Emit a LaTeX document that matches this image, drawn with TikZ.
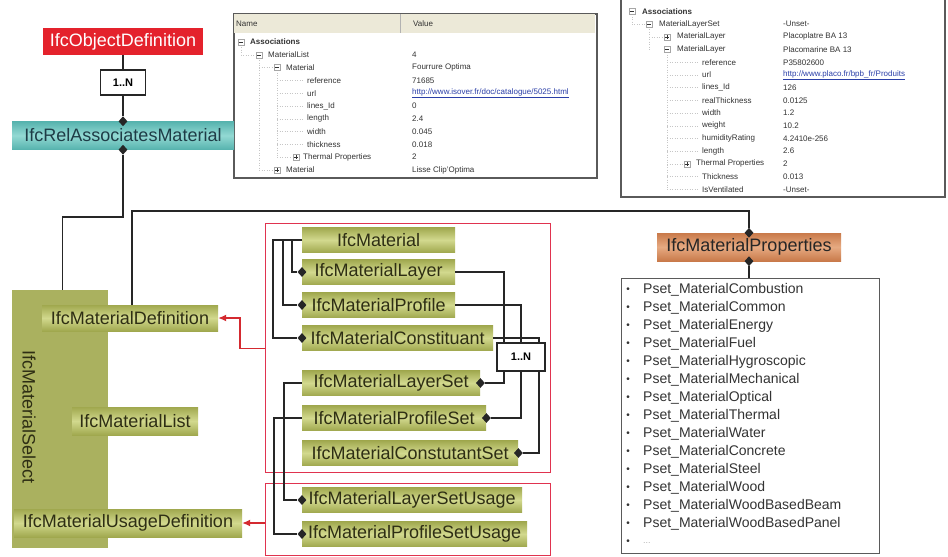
\documentclass[tikz,border=0pt]{standalone}
\usepackage{fontspec}
\setmainfont{Liberation Sans}
\usetikzlibrary{shapes.geometric,arrows.meta}
\definecolor{objred}{HTML}{E4222C}
\definecolor{teal1}{HTML}{56B3AE}
\definecolor{teal2}{HTML}{93D9D3}
\definecolor{tealtext}{HTML}{1E3C46}
\definecolor{ol1}{HTML}{A0A84E}
\definecolor{ol2}{HTML}{D2D98E}
\definecolor{olsel}{HTML}{AAB15F}
\definecolor{oltext}{HTML}{2E2E14}
\definecolor{or1}{HTML}{C97A4A}
\definecolor{or2}{HTML}{E6AA82}
\definecolor{frred}{HTML}{E0334F}
\definecolor{arred}{HTML}{D42A30}
\definecolor{linec}{HTML}{262626}
\definecolor{hdr}{HTML}{ECE9D8}
\definecolor{pborder}{HTML}{5A5A5A}
\definecolor{urlc}{HTML}{2B3FA8}
\definecolor{ptext}{HTML}{333333}
\newcommand\treeMinus[2]{\draw[gray!70,fill=white,line width=0.4pt] ({#1-3},{#2-3}) rectangle ({#1+3},{#2+3}); \draw[gray!40!black,line width=0.5pt] ({#1-1.8},{#2}) -- ({#1+1.8},{#2});}
\newcommand\treePlus[2]{\treeMinus{#1}{#2}\draw[gray!40!black,line width=0.5pt] ({#1},{#2-1.8}) -- ({#1},{#2+1.8});}
\begin{document}
\begin{tikzpicture}[x=1pt,y=-1pt,
  big/.style={font=\fontsize{18}{20}\selectfont},
  obox/.style={rectangle, inner sep=0pt, minimum height=25pt, big, text=oltext, top color=ol1, bottom color=ol1, middle color=ol2},
  nbox/.style={rectangle, draw=linec, fill=white, line width=1.2pt, minimum width=45pt, minimum height=25pt, inner sep=0pt, font=\fontsize{11}{13}\selectfont\bfseries},
  dia/.style={diamond, fill=linec, inner sep=0pt, minimum width=9pt, minimum height=10pt},
  conn/.style={draw=linec, line width=1.3pt},
  rconn/.style={draw=arred, line width=1.3pt, -{Latex[length=8pt,width=7pt]}},
  frame/.style={rectangle, draw=frred, line width=1.3pt, inner sep=0pt},
  ptxt/.style={font=\fontsize{8}{9}\selectfont, anchor=west, inner sep=0pt, text=ptext},
  tdot/.style={draw=gray!45, dotted, line width=0.5pt},
  litem/.style={font=\fontsize{14}{16}\selectfont, inner sep=0pt, text=ptext}
]
\useasboundingbox (0,0) rectangle (948,557);
\fill[white] (0,0) rectangle (948,557);

% ---------- screenshot panel 1 ----------
\node[draw=pborder, line width=1.6pt, minimum width=363pt, minimum height=164pt, anchor=north west, inner sep=0pt] (pA) at (233,13) {};
\fill[hdr] (234,14) rectangle (595,33);
\draw[gray!60] (400,14) -- (400,33);
\node[ptxt] (hName) at (236,24) {Name};
\node[ptxt] (hValue) at (413,24) {Value};
\draw[tdot] (241,42) -- (241,55) -- (255,55);
\draw[tdot] (259,55) -- (259,170) -- (273,170);
\draw[tdot] (259,67.6) -- (273,67.6);
\draw[tdot] (277,67.6) -- (277,157.2) -- (292,157.2);
\foreach \yy in {80.4,93.2,106,118.8,131.6,144.4} {\draw[tdot] (277,\yy) -- (303,\yy);}
\treeMinus{241}{42}
\treeMinus{259}{54.8}
\treeMinus{277}{67.6}
\treePlus{296}{157.2}
\treePlus{277}{170}
\node[ptxt, font=\fontsize{8}{9}\selectfont\bfseries] (a0) at (250,42) {Associations};
\node[ptxt] (a1) at (268,54.8) {MaterialList};
\node[ptxt] (a2) at (286,67.6) {Material};
\node[ptxt] (a3) at (307,80.4) {reference};
\node[ptxt] (a4) at (307,93.2) {url};
\node[ptxt] (a5) at (307,106) {lines\_Id};
\node[ptxt] (a6) at (307,118.8) {length};
\node[ptxt] (a7) at (307,131.6) {width};
\node[ptxt] (a8) at (307,144.4) {thickness};
\node[ptxt] (a9) at (303,157.2) {Thermal Properties};
\node[ptxt] (a10) at (286,170) {Material};
\node[ptxt] (v1) at (412,54.8) {4};
\node[ptxt] (v2) at (412,67.6) {Fourrure Optima};
\node[ptxt] (v3) at (412,80.4) {71685};
\node[ptxt, text=urlc] (v4) at (412,93.2) {\underline{http://www.isover.fr/doc/catalogue/5025.html}};
\node[ptxt] (v5) at (412,106) {0};
\node[ptxt] (v6) at (412,118.8) {2.4};
\node[ptxt] (v7) at (412,131.6) {0.045};
\node[ptxt] (v8) at (412,144.4) {0.018};
\node[ptxt] (v9) at (412,157.2) {2};
\node[ptxt] (v10) at (412,170) {Lisse Clip'Optima};

% ---------- screenshot panel 2 ----------
\begin{scope}
\clip (621,0) rectangle (944,196);
\draw[tdot] (632,11.5) -- (632,24.2) -- (645,24.2);
\draw[tdot] (649,24.2) -- (649,49.6);
\draw[tdot] (649,36.9) -- (663,36.9);
\draw[tdot] (667,49.6) -- (667,189.3);
\foreach \yy in {62.3,75,87.7,100.4,113.1,125.8,138.5,151.2,176.6,189.3} {\draw[tdot] (667,\yy) -- (699,\yy);}
\draw[tdot] (667,163.9) -- (683,163.9);
\treeMinus{632}{11.5}
\treeMinus{649}{24.2}
\treePlus{667}{36.9}
\treeMinus{667}{49.6}
\treePlus{687}{163.9}
\node[ptxt, font=\fontsize{8}{9}\selectfont\bfseries] (b0) at (642,11.5) {Associations};
\node[ptxt] (b1) at (659,24.2) {MaterialLayerSet};
\node[ptxt] (b2) at (677,36.9) {MaterialLayer};
\node[ptxt] (b3) at (677,49.6) {MaterialLayer};
\node[ptxt] (b4) at (702,62.3) {reference};
\node[ptxt] (b5) at (702,75) {url};
\node[ptxt] (b6) at (702,87.7) {lines\_Id};
\node[ptxt] (b7) at (702,100.4) {realThickness};
\node[ptxt] (b8) at (702,113.1) {width};
\node[ptxt] (b9) at (702,125.8) {weight};
\node[ptxt] (b10) at (702,138.5) {humidityRating};
\node[ptxt] (b11) at (702,151.2) {length};
\node[ptxt] (b12) at (696,163.9) {Thermal Properties};
\node[ptxt] (b13) at (702,176.6) {Thickness};
\node[ptxt] (b14) at (702,189.3) {IsVentilated};
\node[ptxt] (w1) at (783,24.2) {-Unset-};
\node[ptxt] (w2) at (783,36.9) {Placoplatre BA 13};
\node[ptxt] (w3) at (783,49.6) {Placomarine BA 13};
\node[ptxt] (w4) at (783,62.3) {P35802600};
\node[ptxt, text=urlc] (w5) at (783,75) {\underline{http://www.placo.fr/bpb\_fr/Produits}};
\node[ptxt] (w6) at (783,87.7) {126};
\node[ptxt] (w7) at (783,100.4) {0.0125};
\node[ptxt] (w8) at (783,113.1) {1.2};
\node[ptxt] (w9) at (783,125.8) {10.2};
\node[ptxt] (w10) at (783,138.5) {4.2410e-256};
\node[ptxt] (w11) at (783,151.2) {2.6};
\node[ptxt] (w12) at (783,163.9) {2};
\node[ptxt] (w13) at (783,176.6) {0.013};
\node[ptxt] (w14) at (783,189.3) {-Unset-};
\end{scope}
\draw[pborder, line width=1.6pt] (621,0) |- (945,197) -- (945,0);

% ---------- top hierarchy ----------
\node[rectangle, fill=objred, text=white, big, minimum width=160pt, minimum height=27pt, inner sep=0pt] (objdef) at (123,41.5) {IfcObjectDefinition};
\node[rectangle, top color=teal1, bottom color=teal1, middle color=teal2, text=tealtext, big, minimum width=222pt, minimum height=28pt, inner sep=0pt] (rel) at (123,135.5) {IfcRelAssociatesMaterial};

% ---------- IfcMaterialSelect ----------
\node[rectangle, fill=olsel, minimum width=96pt, minimum height=258pt, anchor=north west, inner sep=0pt] (sel) at (12,290) {};
\node[big, text=oltext, rotate=-90, inner sep=0pt] (selt) at (29,417) {IfcMaterialSelect};
\node[obox, minimum width=176pt, minimum height=26pt] (mdef) at (130,318) {IfcMaterialDefinition};
\node[obox, minimum width=126pt, minimum height=28pt] (mlist) at (135,421) {IfcMaterialList};
\node[obox, minimum width=228pt, minimum height=28pt] (musage) at (128,523) {IfcMaterialUsageDefinition};

% ---------- properties ----------
\node[rectangle, top color=or1, bottom color=or1, middle color=or2, text=black!85, big, minimum width=184pt, minimum height=28pt, inner sep=0pt] (props) at (749,247) {IfcMaterialProperties};
\node[draw=pborder, line width=1pt, minimum width=258pt, minimum height=275pt, anchor=north west, inner sep=0pt, fill=white] (plist) at (621,278) {};
\foreach \t [count=\i from 0] in {Combustion,Common,Energy,Fuel,Hygroscopic,Mechanical,Optical,Thermal,Water,Concrete,Steel,Wood,WoodBasedBeam,WoodBasedPanel} {
  \node[litem, font=\fontsize{10}{12}\selectfont] (bu\i) at (628,{290+18*\i}) {•};
  \node[litem, anchor=west] (it\i) at (643,{290+18*\i}) {Pset\_Material\t};
}
\node[litem, font=\fontsize{10}{12}\selectfont] (bu14) at (628,542) {•};
\node[litem, anchor=west, text=gray!60, font=\fontsize{9}{11}\selectfont] (it14) at (643,543) {...};

% ---------- red frames ----------
\node[frame, minimum width=285pt, minimum height=249pt, anchor=north west] (fA) at (265,223) {};
\node[frame, minimum width=285pt, minimum height=72pt, anchor=north west] (fB) at (265,483) {};

% ---------- material boxes ----------
\node[obox, anchor=west, minimum width=153pt] (mat) at (302,240) {IfcMaterial};
\node[obox, anchor=west, minimum width=153pt] (layer) at (302,272) {IfcMaterialLayer};
\node[obox, anchor=west, minimum width=153pt] (prof) at (302,305) {IfcMaterialProfile};
\node[obox, anchor=west, minimum width=191pt] (cons) at (302,338) {IfcMaterialConstituant};
\node[obox, anchor=west, minimum width=178pt] (lset) at (302,383) {IfcMaterialLayerSet};
\node[obox, anchor=west, minimum width=184pt] (pset) at (302,418) {IfcMaterialProfileSet};
\node[obox, anchor=west, minimum width=216pt] (cset) at (302,453) {IfcMaterialConstutantSet};
\node[obox, anchor=west, minimum width=220pt] (lsu) at (302,500) {IfcMaterialLayerSetUsage};
\node[obox, anchor=west, minimum width=225pt] (psu) at (302,534) {IfcMaterialProfileSetUsage};

% ---------- diamonds ----------
\node[dia] (dRt) at (rel.north) {};
\node[dia] (dRb) at (rel.south) {};
\node[dia] (dPt) at (props.north) {};
\node[dia] (dPb) at (props.south) {};
\node[dia] (dL) at (layer.west) {};
\node[dia] (dP) at (prof.west) {};
\node[dia] (dC) at (cons.west) {};
\node[dia] (dLS) at (lset.east) {};
\node[dia] (dPS) at (pset.east) {};
\node[dia] (dCS) at (cset.east) {};
\node[dia] (dLSU) at (lsu.west) {};
\node[dia] (dPSU) at (psu.west) {};

% ---------- connectors ----------
\coordinate (bend1) at (0,217);
\coordinate (bend2) at (0,211);
\coordinate (selTop) at ([xshift=2pt]sel.north);
\coordinate (mdTop) at ([xshift=2pt]mdef.north);
\coordinate (xa) at (504,0);
\coordinate (xb) at (521,0);
\coordinate (xc) at (539,0);

\draw[conn] (objdef.south) -- (dRt.north);
\draw[conn] (dRb.south) -- (dRb |- bend1) -| (selTop);
\draw[conn] (mdTop) -- (mdTop |- bend2) -| (dPt.north);
\draw[conn] (dPb.south) -- (dPb |- plist.north);

\draw[conn] (mat.west) -- ++(-10,0) |- (dL.west);
\draw[conn] (mat.west) -- ++(-19,0) |- (dP.west);
\draw[conn] (mat.west) -- ++(-29,0) |- (dC.west);

\draw[conn] (layer.east) -- (layer.east -| xa) |- (dLS.east);
\draw[conn] (prof.east) -- (prof.east -| xb) |- (dPS.east);
\draw[conn] (cons.east) -- (cons.east -| xc) |- (dCS.east);

\draw[conn] (lset.west) -- ++(-18,0) |- (dLSU.west);
\draw[conn] (pset.west) -- ++(-28,0) |- (dPSU.west);

\draw[rconn] (fA.west) -- ++(-25,0) |- (mdef.east);
\draw[rconn] (musage -| fB.west) -- (musage.east);

% ---------- multiplicity boxes ----------
\node[nbox] (n1) at (123,82.5) {1..N};
\node[nbox, minimum width=48pt, minimum height=28pt] (n2) at (521,357) {1..N};
\end{tikzpicture}
\end{document}
